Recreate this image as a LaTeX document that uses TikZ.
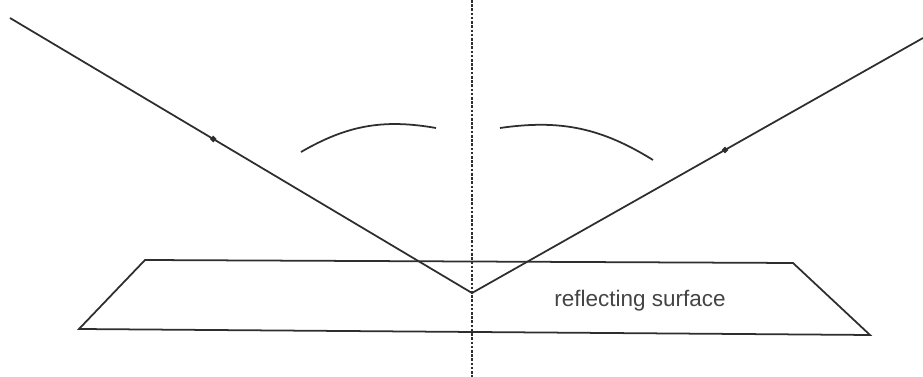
\documentclass[tikz,border=0pt]{standalone}
\usepackage{fontspec}
\setmainfont{Liberation Sans}
\usetikzlibrary{positioning, calc}
\definecolor{Ink}{HTML}{2E2E2E}
\definecolor{Label}{HTML}{444444}
\tikzset{
    ray/.style={line width=1pt, color=Ink},
    surface/.style={line width=1pt, color=Ink, line join=miter},
    normalline/.style={line width=1.4pt, color=Ink, dash pattern=on 1.5pt off 0.9pt},
    anglearc/.style={line width=1pt, color=Ink},
    raymark/.style={diamond, fill=Ink, inner sep=0pt, minimum size=4pt},
    surflabel/.style={font=\fontsize{12.8}{15}\selectfont, text=Label},
}
\usetikzlibrary{shapes.geometric}
\begin{document}
\begin{tikzpicture}[x=0.02cm, y=-0.02cm]
    \useasboundingbox (0,0) rectangle (923,377);

    % Punti
    \coordinate (V) at (472,293);
    \coordinate (In) at (10,18);
    \coordinate (Out) at (923,38);
    \coordinate (Ntop) at (472,0);
    \coordinate (Nbot) at (472,377);

    % Superficie riflettente
    \coordinate (S1) at (145,260);
    \coordinate (S2) at (793,263);
    \coordinate (S3) at (870,335);
    \coordinate (S4) at (79,329);
    \draw[surface] (S1) -- (S2) -- (S3) -- (S4) -- cycle;
    \node[surflabel] (lbl) at (640,301) {reflecting surface};

    % Normale
    \draw[normalline] (Ntop) -- (Nbot);

    % Raggi
    \draw[ray] (In) -- (V) -- (Out);
    \node[raymark] (mIn) at ($(In)!0.44!(V)$) {};
    \node[raymark] (mOut) at ($(V)!0.561!(Out)$) {};

    % Archi degli angoli
    \coordinate (A1) at (301,152);
    \coordinate (A2) at (436,128);
    \coordinate (B1) at (500,128);
    \coordinate (B2) at (653,160);
    \draw[anglearc] (A1) to[bend left=20] (A2);
    \draw[anglearc] (B1) to[bend left=20] (B2);
\end{tikzpicture}
\end{document}
